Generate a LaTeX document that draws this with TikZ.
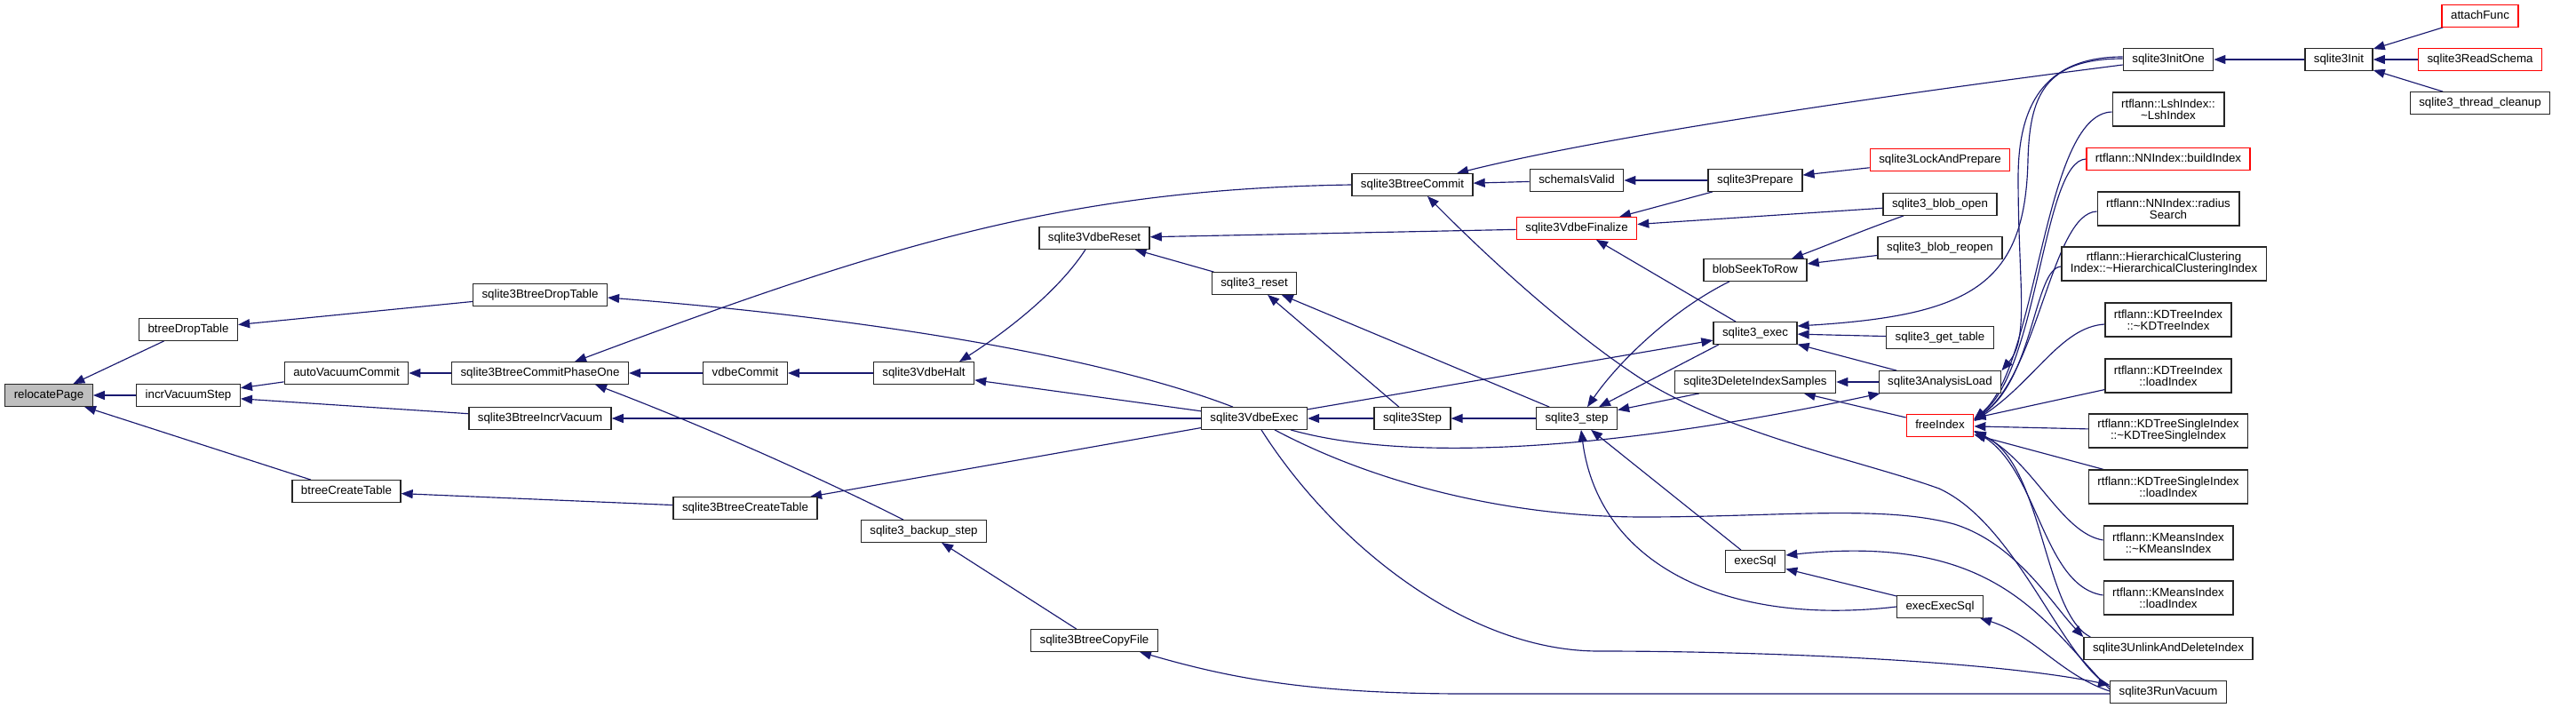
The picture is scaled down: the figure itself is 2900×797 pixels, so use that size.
\documentclass[tikz,border=0pt]{standalone}
\usepackage{fontspec}
\setmainfont{Liberation Sans}
\usetikzlibrary{arrows.meta}
\pgfdeclarelayer{bg}
\pgfsetlayers{bg,main}
\definecolor{edgecol}{RGB}{25,25,112}
\definecolor{rootfill}{RGB}{191,191,191}
\tikzset{
 fnbase/.style={draw=black!85, line width=1.3pt, fill=white, inner xsep=10pt, inner ysep=0pt, font=\fontsize{13.3}{13}\selectfont, align=center},
 fn/.style={fnbase, minimum height=24.5pt, text height=10pt, text depth=3pt},
 fnn/.style={fnbase, minimum height=38pt},
 hot/.style={draw=red},
 rootfn/.style={fill=rootfill},
 ca/.style={draw=edgecol, line width=1.15pt, -{Triangle[length=13pt,width=10pt]}}
}
\begin{document}
\begin{tikzpicture}[x=1pt,y=-1pt]
\useasboundingbox (0,0) rectangle (2900,797);
\node[fn,rootfn] (relocate) at (55,445) {relocatePage};
\node[fn] (btdrop) at (212,371) {btreeDropTable};
\node[fn] (incrvac) at (212,445) {incrVacuumStep};
\node[fn] (autovac) at (390,420) {autoVacuumCommit};
\node[fn] (btcreate) at (390,553) {btreeCreateTable};
\node[fn] (sbdrop) at (608,332) {sqlite3BtreeDropTable};
\node[fn] (bcpo) at (608,420) {sqlite3BtreeCommitPhaseOne};
\node[fn] (sbincr) at (608,471) {sqlite3BtreeIncrVacuum};
\node[fn] (vcommit) at (839,420) {vdbeCommit};
\node[fn] (sbcreate) at (839,572) {sqlite3BtreeCreateTable};
\node[fn] (vhalt) at (1040,420) {sqlite3VdbeHalt};
\node[fn] (bstep) at (1040,598) {sqlite3\_backup\_step};
\node[fn] (vreset) at (1232,268) {sqlite3VdbeReset};
\node[fn] (bcopy) at (1232,721) {sqlite3BtreeCopyFile};
\node[fn] (sreset) at (1412,319) {sqlite3\_reset};
\node[fn] (vexec) at (1412,471) {sqlite3VdbeExec};
\node[fn] (btc) at (1590,208) {sqlite3BtreeCommit};
\node[fn] (sqstep) at (1590,471) {sqlite3Step};
\node[fn] (schema) at (1775,203) {schemaIsValid};
\node[fn,hot] (vfin) at (1775,257) {sqlite3VdbeFinalize};
\node[fn] (sstep) at (1775,471) {sqlite3\_step};
\node[fn] (prep) at (1976,203) {sqlite3Prepare};
\node[fn] (blobseek) at (1976,304) {blobSeekToRow};
\node[fn] (exec) at (1976,375) {sqlite3\_exec};
\node[fn] (delidx) at (1976,430) {sqlite3DeleteIndexSamples};
\node[fn] (execsql) at (1976,632) {execSql};
\node[fn,hot] (lockprep) at (2184,180) {sqlite3LockAndPrepare};
\node[fn] (bopen) at (2184,230) {sqlite3\_blob\_open};
\node[fn] (breopen) at (2184,279) {sqlite3\_blob\_reopen};
\node[fn] (gettable) at (2184,380) {sqlite3\_get\_table};
\node[fn] (aload) at (2184,430) {sqlite3AnalysisLoad};
\node[fn,hot] (free) at (2184,479) {freeIndex};
\node[fn] (execexec) at (2184,683) {execExecSql};
\node[fn] (initone) at (2441,67) {sqlite3InitOne};
\node[fnn] (lsh) at (2441,123) {rtflann::LshIndex::\\\textasciitilde LshIndex};
\node[fn,hot] (build) at (2441,179) {rtflann::NNIndex::buildIndex};
\node[fnn] (radius) at (2441,235) {rtflann::NNIndex::radius\\Search};
\node[fnn] (hier) at (2436,297) {rtflann::HierarchicalClustering\\Index::\textasciitilde HierarchicalClusteringIndex};
\node[fnn] (kdt1) at (2441,360) {rtflann::KDTreeIndex\\::\textasciitilde KDTreeIndex};
\node[fnn] (kdt2) at (2441,423) {rtflann::KDTreeIndex\\::loadIndex};
\node[fnn] (kds1) at (2441,485) {rtflann::KDTreeSingleIndex\\::\textasciitilde KDTreeSingleIndex};
\node[fnn] (kds2) at (2441,548) {rtflann::KDTreeSingleIndex\\::loadIndex};
\node[fnn] (km1) at (2441,611) {rtflann::KMeansIndex\\::\textasciitilde KMeansIndex};
\node[fnn] (km2) at (2441,673) {rtflann::KMeansIndex\\::loadIndex};
\node[fn] (unlink) at (2441,730) {sqlite3UnlinkAndDeleteIndex};
\node[fn] (rvac) at (2441,779) {sqlite3RunVacuum};
\node[fn] (init) at (2633,67) {sqlite3Init};
\node[fn,hot] (attach) at (2792,18) {attachFunc};
\node[fn,hot] (readschema) at (2792,67) {sqlite3ReadSchema};
\node[fn] (thread) at (2792,116) {sqlite3\_thread\_cleanup};
\begin{pgfonlayer}{bg}
% straight connectors
\draw[ca] (btdrop) -- (relocate);
\draw[ca] (incrvac) -- (relocate);
\draw[ca] (btcreate) -- (relocate);
\draw[ca] (sbdrop) -- (btdrop);
\draw[ca] (autovac) -- (incrvac);
\draw[ca] (sbincr) -- (incrvac);
\draw[ca] (bcpo) -- (autovac);
\draw[ca] (sbcreate) -- (btcreate);
\draw[ca] (vcommit) -- (bcpo);
\draw[ca] (vexec) -- (sbincr);
\draw[ca] (vhalt) -- (vcommit);
\draw[ca] (vexec) -- (sbcreate);
\draw[ca] (vexec) -- (vhalt);
\draw[ca] (bcopy) -- (bstep);
\draw[ca] (sreset) -- (vreset);
\draw[ca] (vfin) -- (vreset);
\draw[ca] (sqstep) -- (sreset);
\draw[ca] (sstep) -- (sreset);
\draw[ca] (sqstep) -- (vexec);
\draw[ca] (sstep) -- (sqstep);
\draw[ca] (schema) -- (btc);
\draw[ca] (prep) -- (schema);
\draw[ca] (prep) -- (vfin);
\draw[ca] (bopen) -- (vfin);
\draw[ca] (exec) -- (vfin);
\draw[ca] (delidx) -- (sstep);
\draw[ca] (execsql) -- (sstep);
\draw[ca] (execexec) -- (execsql);
\draw[ca] (lockprep) -- (prep);
\draw[ca] (breopen) -- (blobseek);
\draw[ca] (vexec) -- (exec);
\draw[ca] (gettable) -- (exec);
\draw[ca] (aload) -- (exec);
\draw[ca] (aload) -- (delidx);
\draw[ca] (free) -- (delidx);
\draw[ca] (init) -- (initone);
\draw[ca] (attach) -- (init);
\draw[ca] (readschema) -- (init);
\draw[ca] (thread) -- (init);
\draw[ca] (kdt2) -- (free);
\draw[ca] (kds1) -- (free);
\draw[ca] (kds2) -- (free);
\draw[ca] ([xshift=-41pt]exec.south) -- ([xshift=25pt]sstep.north);
% curved connectors
\draw[ca] ([xshift=-24pt]vexec.north) .. controls (1250,405) and (1000,360) .. ([yshift=-3pt]sbdrop.east);
\draw[ca] (btc.west) .. controls (1200,213) and (1000,275) .. ([xshift=39pt]bcpo.north);
\draw[ca] ([xshift=-23pt]bstep.north) .. controls (960,556) and (820,490) .. ([xshift=62pt]bcpo.south);
\draw[ca] ([xshift=-10pt]vreset.south) .. controls (1190,330) and (1130,375) .. ([xshift=40pt]vhalt.north);
\draw[ca] ([yshift=-6pt]initone.west) .. controls (2100,110) and (1800,155) .. ([xshift=50pt]btc.north);
\draw[ca] ([yshift=6pt]rvac.west) .. controls (2320,740) and (2270,590) .. (2183,550) .. controls (2100,520) and (1950,490) .. (1850,428) .. controls (1760,370) and (1660,275) .. ([xshift=17pt]btc.south);
\draw[ca] ([yshift=3pt]rvac.west) .. controls (2300,700) and (2250,600) .. ([yshift=7pt]execsql.east);
\draw[ca] ([yshift=1pt]rvac.west) .. controls (2320,760) and (2290,715) .. ([xshift=-4pt]execexec.south east);
\draw[ca] ([yshift=-2pt]rvac.west) -- (1650,781) .. controls (1470,781) and (1380,762) .. ([xshift=51pt]bcopy.south);
\draw[ca] ([xshift=8pt]vexec.south) .. controls (1500,610) and (1650,733) .. (1800,733) .. controls (2000,733) and (2250,745) .. ([yshift=8pt]rvac.west);
\draw[ca] ([xshift=23pt]vexec.south) .. controls (1550,545) and (1700,582) .. (1850,582) .. controls (2000,582) and (2120,568) .. (2200,590) .. controls (2270,612) and (2310,680) .. (unlink.north west);
\draw[ca] ([xshift=41pt]vexec.south) .. controls (1600,525) and (1850,500) .. ([xshift=2pt]aload.south west);
\draw[ca] ([xshift=-29pt]blobseek.south) .. controls (1880,350) and (1820,410) .. ([xshift=12pt]sstep.north);
\draw[ca] (execexec.west) .. controls (1950,705) and (1800,640) .. ([xshift=5pt]sstep.south);
\draw[ca] ([xshift=-41pt]bopen.south) .. controls (2090,262) and (2060,275) .. ([xshift=41pt]blobseek.north);
\draw[ca] ([yshift=1pt]initone.west) .. controls (2300,66) and (2285,110) .. (2283,180) .. controls (2280,320) and (2220,355) .. ([yshift=8pt]exec.east);
\draw[ca] ([yshift=3pt]initone.west) .. controls (2300,64) and (2272,120) .. (2272,200) .. controls (2272,320) and (2285,380) .. (aload.north east);
% connectors into freeIndex
\draw[ca] ([yshift=-3pt]lsh.west) .. controls (2300,128) and (2295,410) .. ([yshift=7pt]free.east);
\draw[ca] (build.west) .. controls (2300,181) and (2295,415) .. ([yshift=7pt]free.east);
\draw[ca] ([yshift=-3pt]radius.west) .. controls (2310,240) and (2295,420) .. ([yshift=6pt]free.east);
\draw[ca] ([yshift=-3pt]hier.west) .. controls (2290,302) and (2290,425) .. ([yshift=6pt]free.east);
\draw[ca] ([yshift=-5pt]kdt1.west) .. controls (2320,368) and (2290,430) .. ([yshift=5pt]free.east);
\draw[ca] ([yshift=3pt]km1.west) .. controls (2320,600) and (2290,520) .. ([yshift=-6pt]free.east);
\draw[ca] ([yshift=3pt]km2.west) .. controls (2300,660) and (2295,530) .. ([yshift=-6pt]free.east);
\draw[ca] ([xshift=8pt]unlink.north west) .. controls (2300,690) and (2300,520) .. ([yshift=-7pt]free.east);
\end{pgfonlayer}
\end{tikzpicture}
\end{document}
